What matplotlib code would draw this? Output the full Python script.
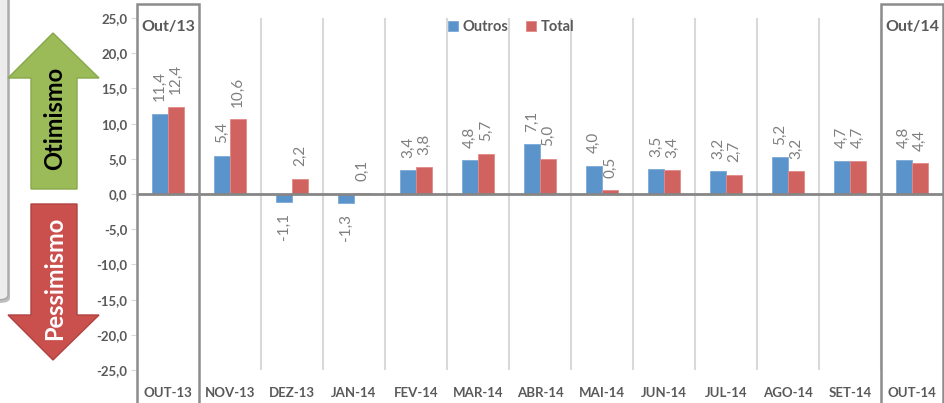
import matplotlib.pyplot as plt
import matplotlib.transforms as mtransforms
from matplotlib.patches import Polygon, Rectangle, FancyBboxPatch
import numpy as np

plt.rcParams['font.family'] = ['Lato', 'DejaVu Sans']

categories = ['OUT-13', 'NOV-13', 'DEZ-13', 'JAN-14', 'FEV-14', 'MAR-14', 'ABR-14',
              'MAI-14', 'JUN-14', 'JUL-14', 'AGO-14', 'SET-14', 'OUT-14']
outros = [11.4, 5.4, -1.1, -1.3, 3.4, 4.8, 7.1, 4.0, 3.5, 3.2, 5.2, 4.7, 4.8]
total = [12.4, 10.6, 2.2, 0.1, 3.8, 5.7, 5.0, 0.5, 3.4, 2.7, 3.2, 4.7, 4.4]
y_ticks = [-25, -20, -15, -10, -5, 0, 5, 10, 15, 20, 25]

W, H = 944, 403
BLUE = '#5B93CB'
RED = '#D0625F'
GREY_TXT = '#595959'


def px(x, y):
    # pixel position -> figure fraction
    return x / W, 1 - y / H


fig = plt.figure(figsize=(W / 100, H / 100), dpi=100)
ax = fig.add_axes([137 / W, 1 - 370 / H, 806 / W, 352 / H])

x = np.arange(len(categories))
bw = 0.26
b1 = ax.bar(x - bw / 2, outros, bw, color=BLUE, edgecolor='#7aa9d8', linewidth=0.6, label='Outros', zorder=3)
b2 = ax.bar(x + bw / 2, total, bw, color=RED, edgecolor='#e08a88', linewidth=0.6, label='Total', zorder=3)


def fmt(v):
    return f'{v:.1f}'.replace('.', ',')


for bars, vals in ((b1, outros), (b2, total)):
    for rect, v in zip(bars, vals):
        cx = rect.get_x() + rect.get_width() / 2
        ax.annotate(fmt(v), (cx, v), xytext=(0, 9 if v >= 0 else -8), textcoords='offset points',
                    rotation=90, ha='center', va='bottom' if v >= 0 else 'top',
                    color='#7f7f7f', fontsize=11, zorder=4)

ax.set_xlim(-0.5, len(categories) - 0.5)
ax.set_ylim(-25, 25)
ax.axhline(0, color='#868686', lw=2, zorder=5)

for i in range(1, len(categories) - 1):
    ax.axvline(i + 0.5, color='#d9d9d9', lw=1.5, zorder=1)

for s in ax.spines.values():
    s.set_visible(False)

ax.set_yticks(y_ticks)
ax.set_yticklabels([fmt(v) for v in y_ticks])
ax.set_xticks(x)
ax.set_xticklabels(categories)
ax.tick_params(axis='x', length=0, pad=12)
ax.tick_params(axis='y', length=4, color='#d9d9d9', pad=3)
for lab in ax.get_xticklabels() + ax.get_yticklabels():
    lab.set_fontweight('bold')
    lab.set_color(GREY_TXT)
    lab.set_fontsize(9.5)

# boxes around first and last month
bt = mtransforms.blended_transform_factory(ax.transData, fig.transFigure)
for i, name in ((0, 'Out/13'), (len(categories) - 1, 'Out/14')):
    fig.add_artist(Rectangle((i - 0.5, -0.01), 1, 1 - 4 / H + 0.01, transform=bt,
                             fill=False, edgecolor='#8c8c8c', lw=1.8, clip_on=False))
    fig.text(i, 1 - 27 / H, name, transform=bt, ha='center', va='center',
             fontsize=11.5, fontweight='bold', color=GREY_TXT)

ax.legend(loc='center', bbox_to_anchor=(511 / W, 1 - 27 / H), bbox_transform=fig.transFigure,
          ncol=2, frameon=False, handlelength=0.7, handleheight=0.7, handletextpad=0.3,
          columnspacing=1.2, prop={'weight': 'bold', 'size': 10.5}, labelcolor=GREY_TXT)

# left side panel
shadow = FancyBboxPatch(px(-30, 303), (40) / W, 330 / H, boxstyle='round,pad=0,rounding_size=0.012',
                        transform=fig.transFigure, facecolor='#bdbdbd', edgecolor='none')
panel = FancyBboxPatch(px(-30, 300), (38) / W, 330 / H, boxstyle='round,pad=0,rounding_size=0.012',
                       transform=fig.transFigure, facecolor='#ececec', edgecolor='#a6a6a6', lw=1)
fig.add_artist(shadow)
fig.add_artist(panel)

up = [px(53, 33), px(99, 78), px(77, 78), px(77, 189), px(31, 189), px(31, 78), px(8, 78)]
down = [px(31, 204), px(77, 204), px(77, 315), px(99, 315), px(53, 360), px(8, 315), px(31, 315)]
fig.add_artist(Polygon(up, closed=True, transform=fig.transFigure,
                       facecolor='#9BBB59', edgecolor='#87a84a', lw=1))
fig.add_artist(Polygon(down, closed=True, transform=fig.transFigure,
                       facecolor='#C9504D', edgecolor='#b04340', lw=1))
fig.text(*px(55, 118), 'Otimismo', rotation=90, ha='center', va='center',
         fontsize=17, fontweight='bold', color='black')
fig.text(*px(55, 278), 'Pessimismo', rotation=90, ha='center', va='center',
         fontsize=17, fontweight='bold', color='white')

fig.savefig('out.png', dpi=100)
